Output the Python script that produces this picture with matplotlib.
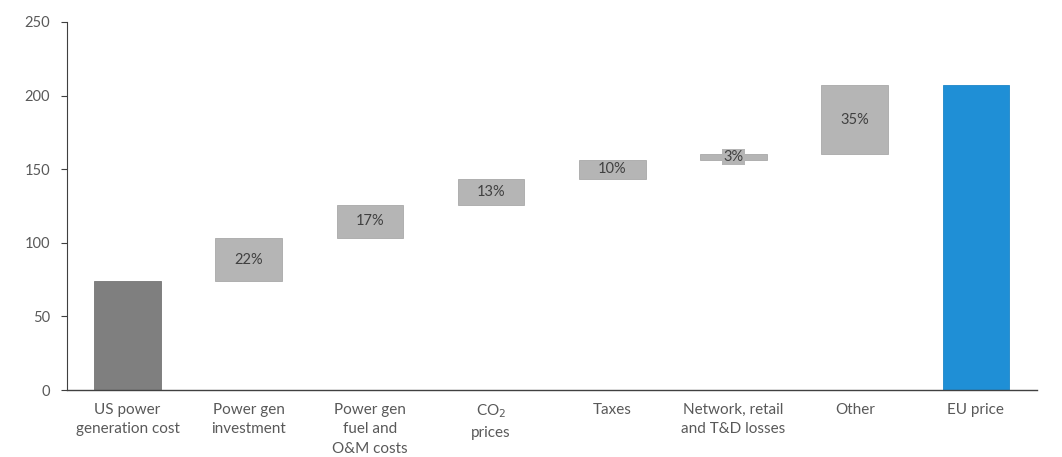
import numpy as np
import matplotlib
matplotlib.use("Agg")
import matplotlib.pyplot as plt

# Bridge from US power generation cost to EU electricity price
categories = [
    "US power\ngeneration cost",
    "Power gen\ninvestment",
    "Power gen\nfuel and\nO&M costs",
    "CO$_2$\nprices",
    "Taxes",
    "Network, retail\nand T&D losses",
    "Other",
    "EU price",
]
us_cost = 74
eu_price = 207
shares = [22, 17, 13, 10, 3, 35]          # % of the gap explained by each step
share_labels = ["22%", "17%", "13%", "10%", "3%", "35%"]
y_ticks = [0, 50, 100, 150, 200, 250]

plt.rcParams["font.family"] = ["Lato", "DejaVu Sans"]

gap = eu_price - us_cost
steps = np.array(shares) / 100.0 * gap
bottoms = us_cost + np.concatenate([[0], np.cumsum(steps)[:-1]])

fig = plt.figure(figsize=(10.62, 4.57), dpi=100)
ax = fig.add_axes([0.063, 0.1466, 0.913, 0.8053])

x = np.arange(len(categories))
width = 0.55
text_color = "#595959"

ax.bar(x[0], us_cost, width=width, color="#7f7f7f", edgecolor="#767676", linewidth=0.6)
ax.bar(x[-1], eu_price, width=width, color="#1f8fd6", edgecolor="#1c86c8", linewidth=0.6)
ax.bar(x[1:-1], steps, bottom=bottoms, width=width, color="#b5b5b5",
       edgecolor="#a9a9a9", linewidth=0.6)

for xi, b, s, lab in zip(x[1:-1], bottoms, steps, share_labels):
    ax.text(xi, b + s / 2, lab, ha="center", va="center", fontsize=10.5, color="#404040",
            bbox=dict(boxstyle="square,pad=0.08", facecolor="#b5b5b5", edgecolor="none"))

ax.set_xlim(-0.5, len(categories) - 0.5)
ax.set_ylim(0, 250)
ax.set_yticks(y_ticks)
ax.set_xticks(x)
ax.set_xticklabels(categories, fontsize=11, color=text_color, linespacing=1.5)
ax.tick_params(axis="x", length=0, pad=9)
ax.tick_params(axis="y", direction="out", length=4, width=0.8, colors="#404040",
               labelsize=10.5, labelcolor=text_color, pad=8)

for side in ("top", "right"):
    ax.spines[side].set_visible(False)
ax.spines["left"].set_color("#404040")
ax.spines["left"].set_linewidth(0.8)
ax.spines["bottom"].set_color("#404040")
ax.spines["bottom"].set_linewidth(1.0)

fig.savefig("out.png", dpi=100)
